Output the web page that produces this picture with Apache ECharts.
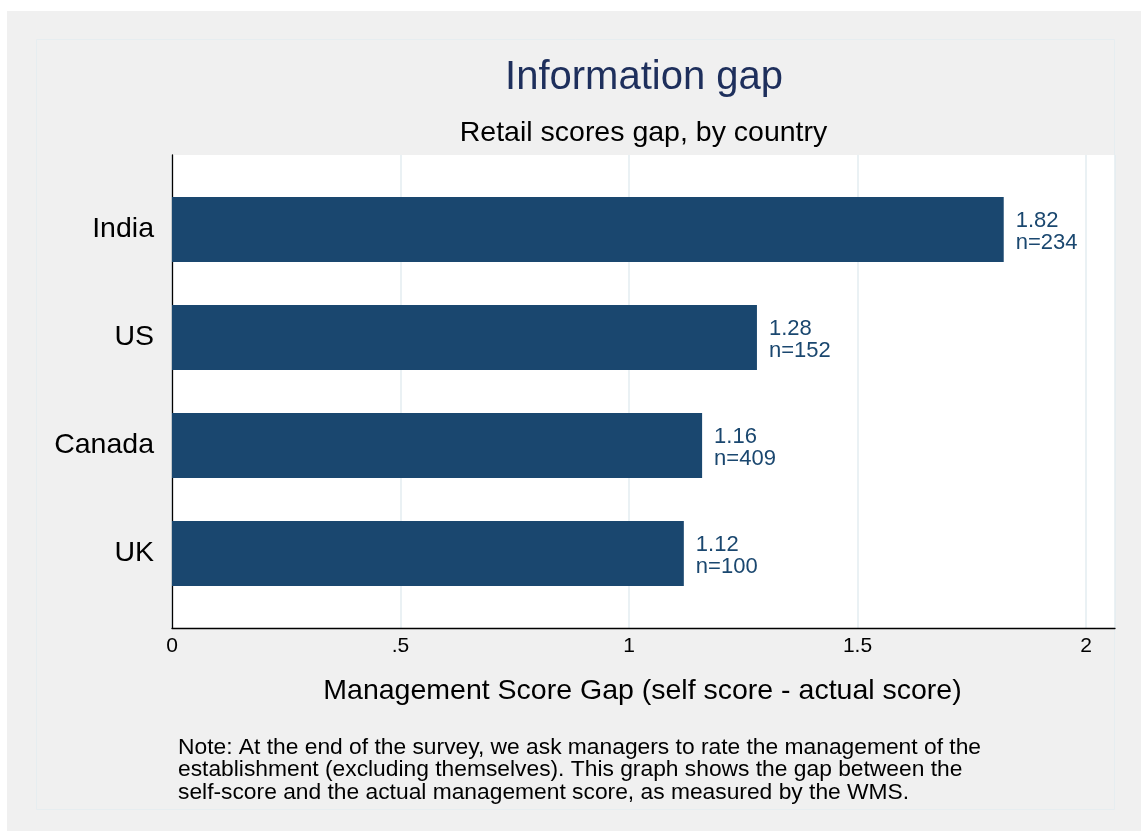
<!DOCTYPE html>
<html>
<head>
<meta charset="utf-8">
<title>Information gap</title>
<script src="https://cdn.jsdelivr.net/npm/echarts@6/dist/echarts.min.js"></script>
<style>
  html, body { margin: 0; padding: 0; background: #ffffff; }
  #chart { width: 1141px; height: 831px; }
</style>
</head>
<body>
<div id="chart"></div>
<script>
// Retail management score gap by country
const countries = ['India', 'US', 'Canada', 'UK'];
const gapValues = [1.82, 1.28, 1.16, 1.12];
const sampleSizes = [234, 152, 409, 100];
const tickValues = [0, 0.5, 1, 1.5, 2];
const tickLabels = ['0', '.5', '1', '1.5', '2'];

const titleText = 'Information gap';
const subtitleText = 'Retail scores gap, by country';
const axisTitle = 'Management Score Gap (self score - actual score)';
const noteText = 'Note: At the end of the survey, we ask managers to rate the management of the\n' +
  'establishment (excluding themselves). This graph shows the gap between the\n' +
  'self-score and the actual management score, as measured by the WMS.';

const FONT = '"Liberation Sans", Arial, Helvetica, sans-serif';
const BAR_COLOR = '#1a476f';
const GRID_COLOR = '#e3ecf0';
const X_MAX = 2.0635;

const chart = echarts.init(document.getElementById('chart'), null, { renderer: 'canvas' });

function label(text, x, y, size, color, align) {
  return {
    type: 'text', silent: true, z: 10,
    style: {
      text: text, x: x, y: y,
      fill: color, font: size + 'px ' + FONT,
      align: align || 'center', verticalAlign: 'middle'
    }
  };
}

const option = {
  backgroundColor: '#ffffff',
  animation: false,
  textStyle: { fontFamily: FONT },
  graphic: [
    {
      type: 'rect', silent: true, z: -10,
      shape: { x: 7, y: 11, width: 1134, height: 820 },
      style: { fill: '#f0f0f0' }
    },
    {
      type: 'rect', silent: true, z: -9,
      shape: { x: 36.5, y: 39.5, width: 1078, height: 770 },
      style: { fill: 'none', stroke: '#e6edf0', lineWidth: 1 }
    },
    label(titleText, 644, 77.5, 40, '#1e2f5c'),
    label(subtitleText, 643.5, 133, 28.5, '#000000'),
    label(axisTitle, 642.5, 691, 28.5, '#000000'),
    {
      type: 'text', silent: true, z: 10,
      style: {
        text: noteText, x: 178, y: 736,
        fill: '#000000', font: '22.8px ' + FONT, lineHeight: 22.5,
        align: 'left', verticalAlign: 'top'
      }
    }
  ],
  grid: [
    // plot frame with gridlines and axes
    { left: 172, right: 26, top: 155, bottom: 203, show: true, backgroundColor: '#ffffff', borderWidth: 0 },
    // bar area inset inside the frame
    { left: 172, right: 26, top: 175.5, bottom: 223.5 }
  ],
  xAxis: [
    {
      gridIndex: 0, type: 'value', min: 0, max: X_MAX, interval: 0.5,
      axisLine: { show: true, onZero: false, lineStyle: { color: '#000000', width: 1.3 } },
      axisTick: { show: false },
      splitLine: { show: true, lineStyle: { color: GRID_COLOR, width: 1.5 } },
      axisLabel: {
        show: true, margin: 8, fontSize: 21, color: '#000000', fontFamily: FONT,
        showMaxLabel: false,
        formatter: function (v) {
          const i = tickValues.findIndex(t => Math.abs(t - v) < 1e-9);
          return i >= 0 ? tickLabels[i] : '';
        }
      }
    },
    {
      gridIndex: 1, type: 'value', min: 0, max: X_MAX, show: false,
      splitLine: { show: false }
    }
  ],
  yAxis: [
    {
      gridIndex: 0, type: 'value', min: 0, max: 1,
      axisLine: { show: true, lineStyle: { color: '#000000', width: 1.3 } },
      axisTick: { show: false },
      axisLabel: { show: false },
      splitLine: { show: false }
    },
    {
      gridIndex: 1, type: 'category', data: countries, inverse: true,
      axisLine: { show: false },
      axisTick: { show: false },
      splitLine: { show: false },
      axisLabel: {
        show: true, margin: 18, fontSize: 28.5, color: '#000000', fontFamily: FONT,
        padding: [6, 0, 0, 0]
      }
    }
  ],
  series: [
    {
      type: 'bar',
      xAxisIndex: 1,
      yAxisIndex: 1,
      data: gapValues,
      barWidth: 65,
      itemStyle: { color: BAR_COLOR },
      label: {
        show: true,
        position: 'right',
        distance: 12,
        offset: [0, 2],
        align: 'left',
        fontSize: 22,
        lineHeight: 22,
        color: BAR_COLOR,
        fontFamily: FONT,
        formatter: function (p) {
          return gapValues[p.dataIndex].toFixed(2) + '\nn=' + sampleSizes[p.dataIndex];
        }
      }
    }
  ]
};

chart.setOption(option);
</script>
</body>
</html>
